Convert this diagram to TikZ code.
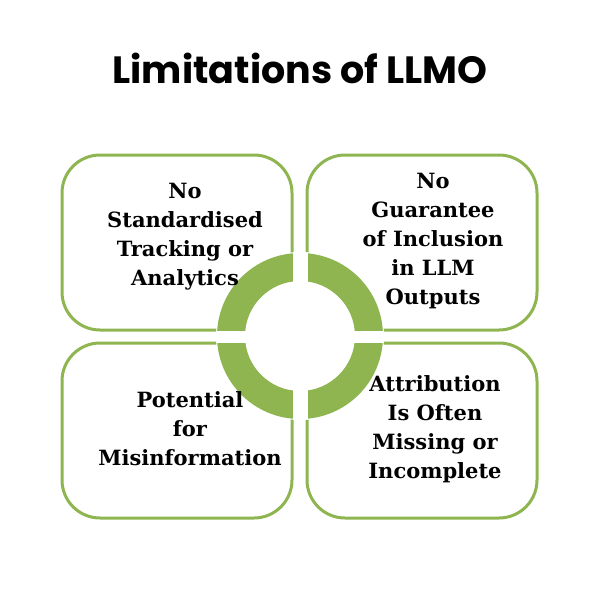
\documentclass[tikz,border=0pt]{standalone}
\usepackage{fontspec}
\setmainfont{DejaVu Serif}
\newfontfamily\titlefont{Poppins}
\definecolor{gr}{HTML}{8FB550}
\begin{document}
\begin{tikzpicture}[x=1pt,y=-1pt,
  card/.style={draw=gr,line width=3pt,fill=white,rounded corners=38pt},
  lbl/.style={align=center,font=\fontsize{21}{29}\selectfont\bfseries}]
\useasboundingbox (0,0) rectangle (600,600);
\node[font=\titlefont\fontsize{38}{42}\selectfont\bfseries] (t) at (300,68) {Limitations of LLMO};
\draw[card] (62,155) rectangle (292,330);
\draw[card] (307,155) rectangle (537,330);
\draw[card] (62,343) rectangle (292,518);
\draw[card] (307,343) rectangle (537,518);
\coordinate (c) at (300,336);
\begin{scope}
\clip (c) circle (84);
\fill[white] (c) circle (84);
\fill[gr,even odd rule] (c) circle (83) (c) circle (55);
\fill[white] (292.5,250) rectangle (307.5,420);
\fill[white] (210,330.5) rectangle (390,342.5);
\end{scope}
\node[lbl] (a) at (185,237) {No\\Standardised\\Tracking or\\Analytics};
\node[lbl] (b) at (433,241) {No\\Guarantee\\of Inclusion\\in LLM\\Outputs};
\node[lbl] (d) at (190,429) {Potential\\for\\Misinformation};
\node[lbl] (e) at (435,429) {Attribution\\Is Often\\Missing or\\Incomplete};
\end{tikzpicture}
\end{document}
